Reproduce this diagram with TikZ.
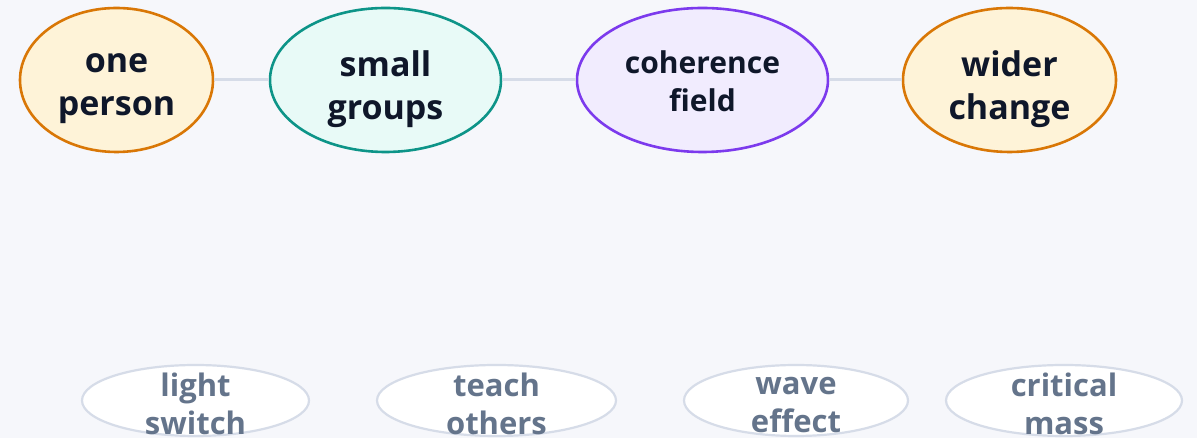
\documentclass[tikz,border=0pt]{standalone}
\usepackage{fontspec}
\setmainfont{Open Sans}
\usetikzlibrary{shapes.geometric}
\definecolor{bg}{HTML}{F6F7FB}
\definecolor{linec}{HTML}{D6DCE8}
\definecolor{ink}{HTML}{0F172A}
\definecolor{muted}{HTML}{64748B}
\definecolor{amberfill}{HTML}{FEF3D8}
\definecolor{amberdraw}{HTML}{D97706}
\definecolor{tealfill}{HTML}{E8FAF7}
\definecolor{tealdraw}{HTML}{0D9488}
\definecolor{violetfill}{HTML}{F1ECFE}
\definecolor{violetdraw}{HTML}{7C3AED}
\tikzset{
  topnode/.style={ellipse, line width=2.6pt, inner sep=0pt, minimum height=144pt},
  toptext/.style={inner sep=0pt, align=center, text=ink, font=\bfseries\fontsize{34}{43}\selectfont},
  cohtext/.style={toptext, font=\bfseries\fontsize{30}{38}\selectfont},
  botnode/.style={ellipse, draw=linec, fill=white, line width=2.2pt, inner sep=0pt, minimum height=71pt},
  bottext/.style={inner sep=0pt, align=center, text=muted, font=\bfseries\fontsize{31}{38}\selectfont},
  link/.style={draw=linec, line width=3pt}
}
\begin{document}
\begin{tikzpicture}[x=1pt,y=1pt]
\fill[bg] (0,0) rectangle (1197,438);
\useasboundingbox (0,0) rectangle (1197,438);
\node[topnode, draw=amberdraw, fill=amberfill, minimum width=193pt] (one) at (116.5,358) {};
\node[topnode, draw=tealdraw, fill=tealfill, minimum width=231pt] (small) at (385.5,358) {};
\node[topnode, draw=violetdraw, fill=violetfill, minimum width=251pt] (coh) at (702.5,358) {};
\node[topnode, draw=amberdraw, fill=amberfill, minimum width=213pt] (wider) at (1009.5,358) {};
\node[toptext] (onet) at ([yshift=-9pt]one.center) {one\\person};
\node[toptext] (smallt) at ([yshift=-9pt]small.center) {small\\groups};
\node[cohtext] (coht) at ([yshift=-1pt]coh.center) {coherence\\field};
\node[toptext] (widert) at ([yshift=-9pt]wider.center) {wider\\change};
\draw[link] (one) -- (small);
\draw[link] (small) -- (coh);
\draw[link] (coh) -- (wider);
\node[botnode, minimum width=227pt] (light) at (195.5,37.5) {};
\node[botnode, minimum width=239pt] (teach) at (496.5,37.5) {};
\node[botnode, minimum width=224pt] (wave) at (796,37.5) {};
\node[botnode, minimum width=236pt] (crit) at (1064,37.5) {};
\node[bottext] (lightt) at ([yshift=-3pt]light.center) {light\\switch};
\node[bottext] (teacht) at ([yshift=-3pt]teach.center) {teach\\others};
\node[bottext] (wavet) at ([yshift=-5pt]wave.center) {wave\\effect};
\node[bottext] (critt) at ([yshift=-3pt]crit.center) {critical\\mass};
\end{tikzpicture}
\end{document}
